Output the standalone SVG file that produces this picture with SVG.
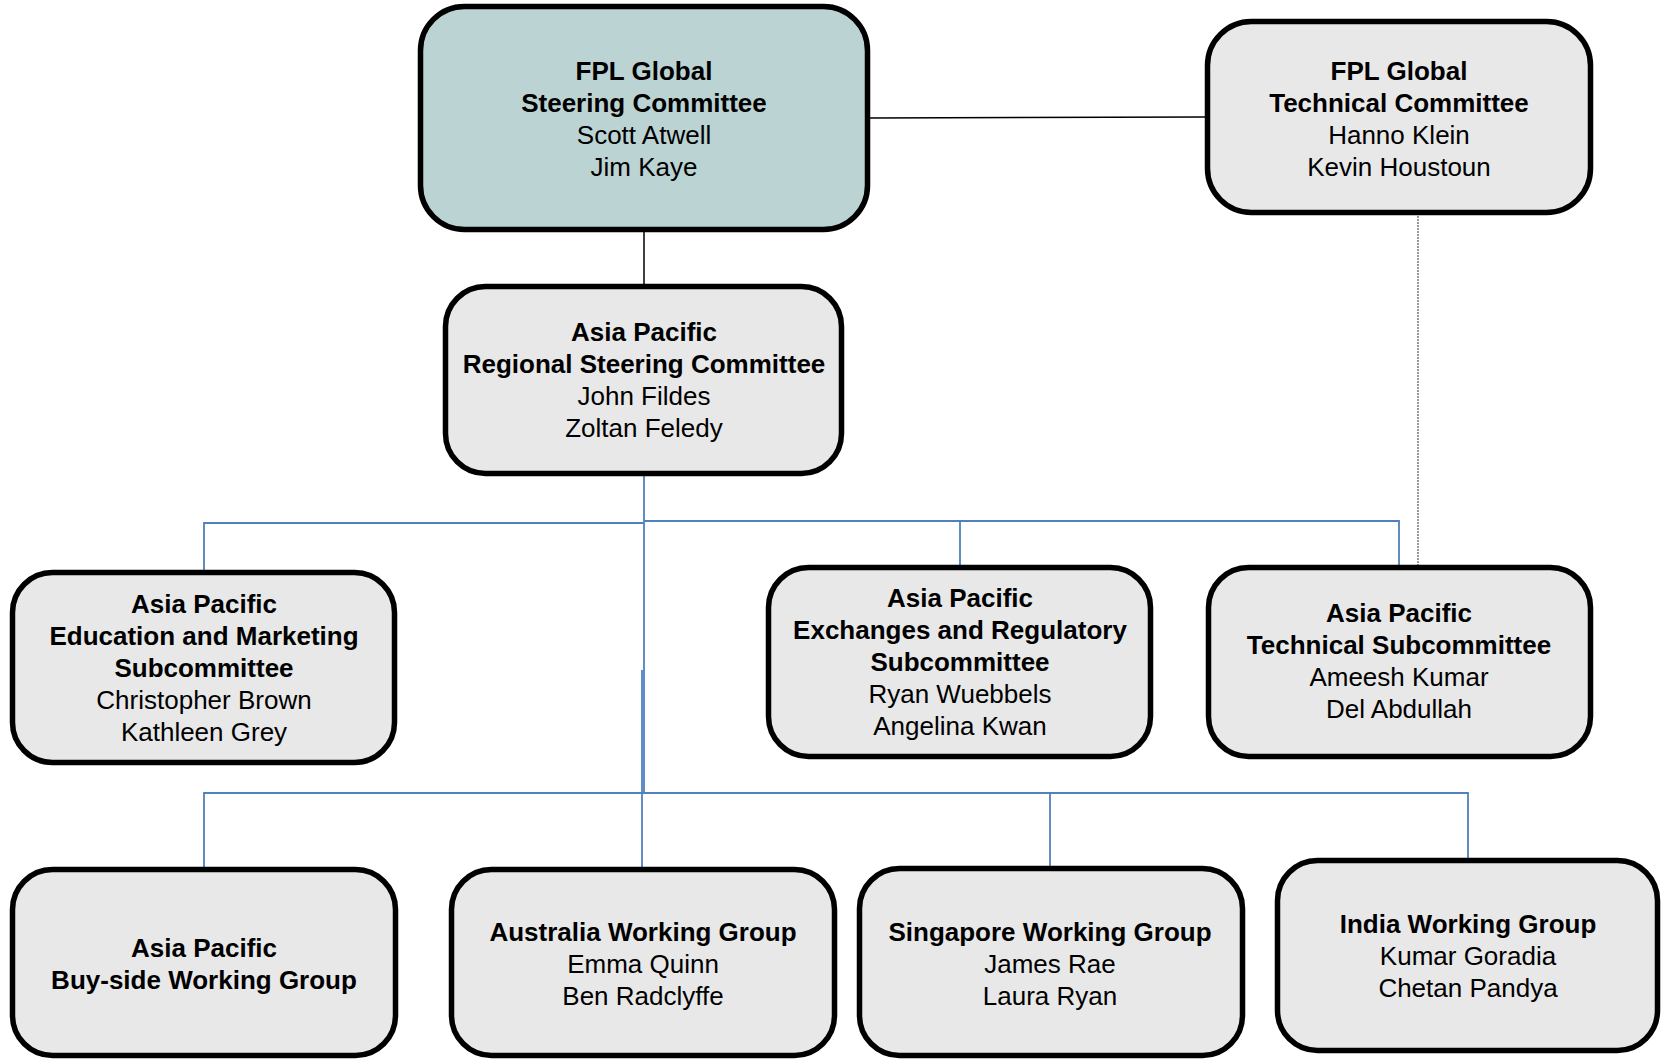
<svg xmlns="http://www.w3.org/2000/svg" width="1667" height="1059" viewBox="0 0 1667 1059">
<style>
.box{fill:#e8e8e8;stroke:#000;stroke-width:5.5}
.top{fill:#bcd3d3}
text{font-family:"Liberation Sans",Arial,sans-serif;font-size:26px;fill:#000;text-anchor:middle}
.b{font-weight:bold}
.blue{stroke:#4f81bd;stroke-width:1.8;fill:none}
.blk{stroke:#000;stroke-width:1.5;fill:none}
.dot{stroke:#333;stroke-width:1;stroke-dasharray:2 1;fill:none}
</style>
<rect width="1667" height="1059" fill="#fff"/>
<g id="connectors">
<line class="blk" x1="644" y1="232" x2="644" y2="284"/>
<line class="blk" x1="870" y1="118" x2="1205" y2="117"/>
<line class="dot" x1="1418" y1="216" x2="1418" y2="566"/>
<polyline class="blue" points="644,476 644,793"/>
<polyline class="blue" points="642,670 642,867"/>
<polyline class="blue" points="644,523 204,523 204,570"/>
<polyline class="blue" points="644,521 1399,521 1399,565"/>
<line class="blue" x1="960" y1="521" x2="960" y2="565"/>
<polyline class="blue" points="204,867 204,793 1468,793 1468,858"/>
<line class="blue" x1="1050" y1="793" x2="1050" y2="866"/>
</g>
<g id="fpl-global-steering">
<rect class="box top" x="420.5" y="6.5" width="447" height="223" rx="44"/>
<text x="644" y="80" class="b">FPL Global</text>
<text x="644" y="112" class="b">Steering Committee</text>
<text x="644" y="144">Scott Atwell</text>
<text x="644" y="176">Jim Kaye</text>
</g>
<g id="fpl-global-technical">
<rect class="box" x="1207.5" y="21.5" width="383" height="191" rx="44"/>
<text x="1399" y="80" class="b">FPL Global</text>
<text x="1399" y="112" class="b">Technical Committee</text>
<text x="1399" y="144">Hanno Klein</text>
<text x="1399" y="176">Kevin Houstoun</text>
</g>
<g id="ap-regional-steering">
<rect class="box" x="445.5" y="286.5" width="396" height="187" rx="40"/>
<text x="644" y="341" class="b">Asia Pacific</text>
<text x="644" y="373" class="b">Regional Steering Committee</text>
<text x="644" y="405">John Fildes</text>
<text x="644" y="437">Zoltan Feledy</text>
</g>
<g id="ap-education-marketing">
<rect class="box" x="12.5" y="572.5" width="382" height="190" rx="40"/>
<text x="204" y="613" class="b">Asia Pacific</text>
<text x="204" y="645" class="b">Education and Marketing</text>
<text x="204" y="677" class="b">Subcommittee</text>
<text x="204" y="709">Christopher Brown</text>
<text x="204" y="741">Kathleen Grey</text>
</g>
<g id="ap-exchanges-regulatory">
<rect class="box" x="768.5" y="567.5" width="382" height="189" rx="40"/>
<text x="960" y="607" class="b">Asia Pacific</text>
<text x="960" y="639" class="b">Exchanges and Regulatory</text>
<text x="960" y="671" class="b">Subcommittee</text>
<text x="960" y="703">Ryan Wuebbels</text>
<text x="960" y="735">Angelina Kwan</text>
</g>
<g id="ap-technical-sub">
<rect class="box" x="1208.5" y="567.5" width="382" height="189" rx="40"/>
<text x="1399" y="622" class="b">Asia Pacific</text>
<text x="1399" y="654" class="b">Technical Subcommittee</text>
<text x="1399" y="686">Ameesh Kumar</text>
<text x="1399" y="718">Del Abdullah</text>
</g>
<g id="ap-buyside">
<rect class="box" x="12.5" y="869.5" width="383" height="186" rx="40"/>
<text x="204" y="957" class="b">Asia Pacific</text>
<text x="204" y="989" class="b">Buy-side Working Group</text>
</g>
<g id="australia">
<rect class="box" x="451.5" y="869.5" width="383" height="186" rx="40"/>
<text x="643" y="941" class="b">Australia Working Group</text>
<text x="643" y="973">Emma Quinn</text>
<text x="643" y="1005">Ben Radclyffe</text>
</g>
<g id="singapore">
<rect class="box" x="859.5" y="868.5" width="383" height="187" rx="40"/>
<text x="1050" y="941" class="b">Singapore Working Group</text>
<text x="1050" y="973">James Rae</text>
<text x="1050" y="1005">Laura Ryan</text>
</g>
<g id="india">
<rect class="box" x="1277.5" y="860.5" width="380" height="190" rx="40"/>
<text x="1468" y="933" class="b">India Working Group</text>
<text x="1468" y="965">Kumar Goradia</text>
<text x="1468" y="997">Chetan Pandya</text>
</g>
</svg>
